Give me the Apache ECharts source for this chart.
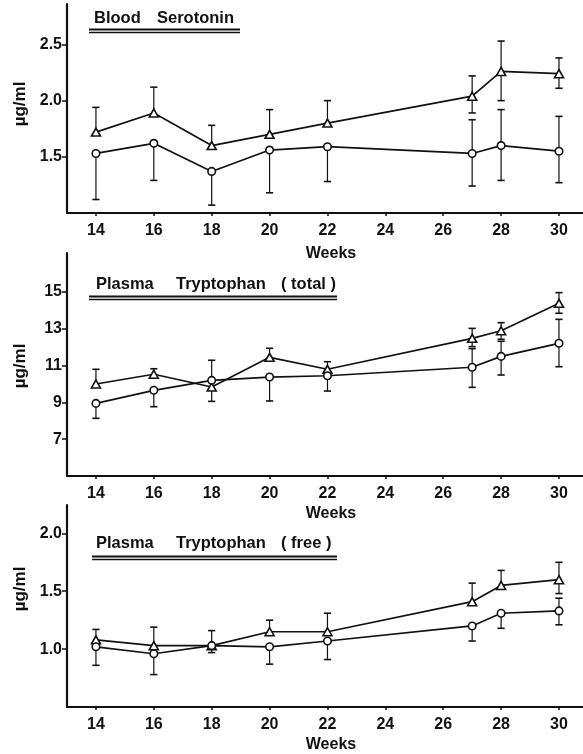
<!DOCTYPE html>
<html>
<head>
<meta charset="utf-8">
<script src="https://cdn.jsdelivr.net/npm/echarts@6/dist/echarts.min.js"></script>
<style>
  html, body { margin: 0; padding: 0; background: #fff; }
  #chart { width: 583px; height: 754px; }
</style>
</head>
<body>
<div id="chart"></div>
<script>
// Sampling weeks shared by all three panels
const weeks = [14, 16, 18, 20, 22, 27, 28, 30];
const weekTicks = [14, 16, 18, 20, 22, 24, 26, 28, 30];

// Blood serotonin (µg/ml): triangle group and circle group, with error-bar ends
const serTri     = [1.72, 1.89, 1.60, 1.70, 1.80, 2.04, 2.26, 2.24];
const serTriHi   = [1.94, 2.12, 1.78, 1.92, 2.00, 2.22, 2.53, 2.38];
const serTriLo   = [null, null, null, null, null, 1.89, 2.00, 2.11];
const serCirc    = [1.53, 1.62, 1.37, 1.56, 1.59, 1.53, 1.60, 1.55];
const serCircHi  = [null, null, null, null, null, 1.83, 1.92, 1.86];
const serCircLo  = [1.12, 1.29, 1.07, 1.18, 1.28, 1.24, 1.29, 1.27];
const serTicks   = [1.5, 2.0, 2.5];

// Plasma tryptophan, total (µg/ml)
const totTri     = [9.99, 10.52, 9.83, 11.44, 10.79, 12.47, 12.88, 14.37];
const totTriHi   = [10.79, 10.82, 11.28, 11.93, 11.20, 13.01, 13.32, 14.95];
const totTriLo   = [null, null, null, null, null, 12.02, 12.42, 13.83];
const totCirc    = [8.94, 9.65, 10.19, 10.37, 10.44, 10.90, 11.49, 12.20];
const totCircHi  = [null, null, null, null, null, 11.91, 12.31, 13.50];
const totCircLo  = [8.13, 8.76, 9.05, 9.07, 9.61, 9.81, 10.48, 10.93];
const totTicks   = [7, 9, 11, 13, 15];

// Plasma tryptophan, free (µg/ml)
const freeTri    = [1.08, 1.03, 1.03, 1.15, 1.15, 1.41, 1.55, 1.60];
const freeTriHi  = [1.17, 1.19, 1.16, 1.25, 1.31, 1.57, 1.68, 1.75];
const freeTriLo  = [null, null, null, null, null, null, null, 1.48];
const freeCirc   = [1.02, 0.96, 1.03, 1.02, 1.07, 1.20, 1.31, 1.33];
const freeCircHi = [null, null, null, null, null, null, null, 1.44];
const freeCircLo = [0.86, 0.78, 0.97, 0.87, 0.91, 1.07, 1.18, 1.21];
const freeTicks  = [1.0, 1.5, 2.0];

const FONT = 'Liberation Sans';
const INK = '#111';

const panels = [
  { top: 4,   height: 209, min: 1.0, max: 2.86, ticks: serTicks, digits: 1,
    tri: serTri, triHi: serTriHi, triLo: serTriLo, circ: serCirc, circHi: serCircHi, circLo: serCircLo },
  { top: 253, height: 223, min: 5,   max: 17.1, ticks: totTicks, digits: 0,
    tri: totTri, triHi: totTriHi, triLo: totTriLo, circ: totCirc, circHi: totCircHi, circLo: totCircLo },
  { top: 505, height: 202, min: 0.5, max: 2.245, ticks: freeTicks, digits: 1,
    tri: freeTri, triHi: freeTriHi, triLo: freeTriLo, circ: freeCirc, circHi: freeCircHi, circLo: freeCircLo }
];

// One-sided error segments: [week, centre value, end value]
function segments(p) {
  const out = [];
  weeks.forEach((w, i) => {
    if (p.triHi[i] != null) out.push([w, p.tri[i], p.triHi[i]]);
    if (p.triLo[i] != null) out.push([w, p.tri[i], p.triLo[i]]);
    if (p.circHi[i] != null) out.push([w, p.circ[i], p.circHi[i]]);
    if (p.circLo[i] != null) out.push([w, p.circ[i], p.circLo[i]]);
  });
  return out;
}

function renderBar(params, api) {
  const x = api.value(0);
  const a = api.coord([x, api.value(1)]);
  const b = api.coord([x, api.value(2)]);
  const half = 3.6;
  const style = { stroke: INK, lineWidth: 1.2, fill: null };
  return {
    type: 'group',
    children: [
      { type: 'line', shape: { x1: a[0], y1: a[1], x2: b[0], y2: b[1] }, style },
      { type: 'line', shape: { x1: b[0] - half, y1: b[1], x2: b[0] + half, y2: b[1] }, style: { stroke: INK, lineWidth: 1.6 } }
    ]
  };
}

const grids = [], xAxes = [], yAxes = [], series = [];
panels.forEach((p, k) => {
  grids.push({ left: 67, right: 0, top: p.top, height: p.height, containLabel: false });
  xAxes.push({
    type: 'value', gridIndex: k, min: 13, max: 30.83,
    axisLine: { show: true, onZero: false, lineStyle: { color: INK, width: 2.2 } },
    axisTick: { show: true, customValues: weekTicks, length: 3, lineStyle: { color: INK, width: 1.5 } },
    axisLabel: { customValues: weekTicks, color: INK, fontFamily: FONT, fontWeight: 'bold', fontSize: 16, margin: 10 },
    splitLine: { show: false }
  });
  yAxes.push({
    type: 'value', gridIndex: k, min: p.min, max: p.max,
    axisLine: { show: true, onZero: false, lineStyle: { color: INK, width: 2.2 } },
    axisTick: { show: true, customValues: p.ticks, length: 5, lineStyle: { color: INK, width: 1.5 } },
    axisLabel: { customValues: p.ticks, color: INK, fontFamily: FONT, fontWeight: 'bold', fontSize: 16, margin: 5,
                 formatter: v => Number(v).toFixed(p.digits) },
    splitLine: { show: false }
  });
  series.push({
    type: 'custom', xAxisIndex: k, yAxisIndex: k, z: 1, silent: true,
    renderItem: renderBar, encode: { x: 0, y: [1, 2] },
    data: segments(p)
  });
  const lineCommon = {
    type: 'line', xAxisIndex: k, yAxisIndex: k, z: 3, silent: true, showAllSymbol: true,
    lineStyle: { color: INK, width: 1.7 },
    itemStyle: { color: '#fff', borderColor: INK, borderWidth: 1.6 }
  };
  series.push(Object.assign({}, lineCommon, {
    symbol: 'triangle', symbolSize: [9, 8],
    data: weeks.map((w, i) => [w, p.tri[i]])
  }));
  series.push(Object.assign({}, lineCommon, {
    symbol: 'circle', symbolSize: 7.5,
    data: weeks.map((w, i) => [w, p.circ[i]])
  }));
});

// Panel headings with double underline, axis titles
const headings = [
  { words: [['Blood', 94], ['Serotonin', 157]], y: 20, line: [89, 240], ly: 29.5 },
  { words: [['Plasma', 96], ['Tryptophan', 176], ['( total )', 281]], y: 286, line: [89, 337], ly: 296.5 },
  { words: [['Plasma', 96], ['Tryptophan', 176], ['( free )', 281]], y: 545, line: [92, 337], ly: 556.5 }
];
const graphic = [];
headings.forEach(h => {
  h.words.forEach(([t, x]) => graphic.push({
    type: 'text', left: x, top: h.y - 10, z: 10,
    style: { text: t, fill: INK, font: 'bold 16.5px "' + FONT + '"' }
  }));
  [0, 3].forEach(d => graphic.push({
    type: 'line', z: 10,
    shape: { x1: h.line[0], y1: h.ly + d, x2: h.line[1], y2: h.ly + d },
    style: { stroke: INK, lineWidth: d === 0 ? 1.8 : 1.4 }
  }));
});
[104, 366, 589].forEach(cy => graphic.push({
  type: 'text', x: 20, y: cy, rotation: Math.PI / 2, z: 10,
  style: { text: 'µg/ml', fill: INK, font: 'bold 17px "' + FONT + '"', align: 'center', verticalAlign: 'middle' }
}));
[254, 514, 745].forEach(cy => graphic.push({
  type: 'text', x: 331, y: cy, z: 10,
  style: { text: 'Weeks', fill: INK, font: 'bold 16px "' + FONT + '"', align: 'center', verticalAlign: 'middle' }
}));

const chart = echarts.init(document.getElementById('chart'), null, { renderer: 'canvas' });
chart.setOption({
  animation: false,
  backgroundColor: '#fff',
  grid: grids,
  xAxis: xAxes,
  yAxis: yAxes,
  series: series,
  graphic: graphic
});
</script>
</body>
</html>
